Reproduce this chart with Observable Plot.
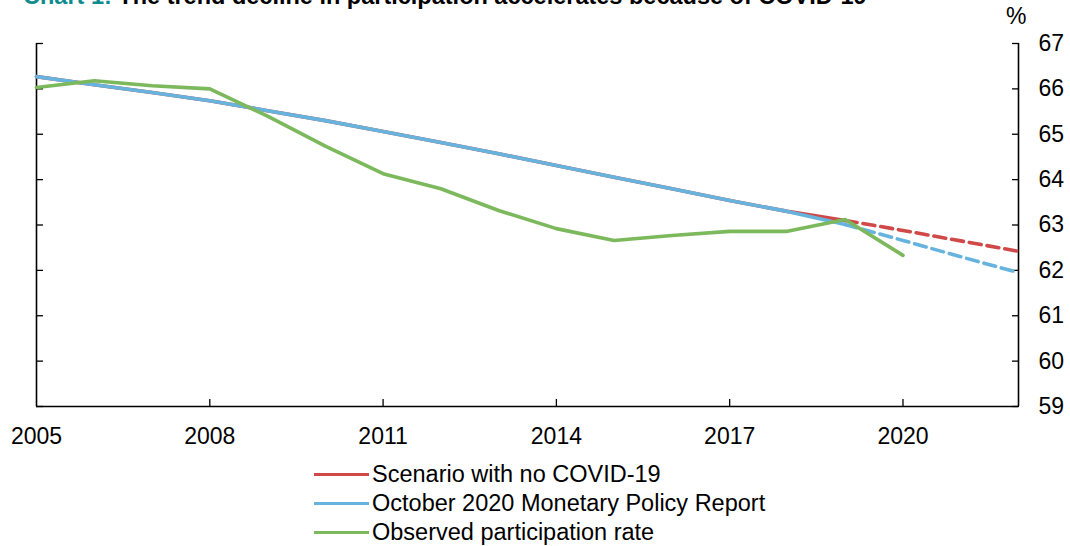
<!DOCTYPE html>
<html>
<head>
<meta charset="utf-8">
<script src="https://cdn.jsdelivr.net/npm/d3@7"></script>
<script src="https://cdn.jsdelivr.net/npm/@observablehq/plot@0.6"></script>
<style>
  html, body { margin: 0; padding: 0; background: #fff; }
  body { width: 1070px; height: 546px; position: relative; overflow: hidden; font-family: Arial, "Liberation Sans", sans-serif; }
  #title { position: absolute; left: 23px; top: -16px; font-size: 23.5px; font-weight: bold; white-space: nowrap; line-height: 24px; color: #000; }
  #title .lead { color: #0f8b8d; }
  #pct { position: absolute; left: 1006px; top: 3px; font-size: 23px; line-height: 26px; }
  #chart { position: absolute; left: 0; top: 0; }
  #legend { position: absolute; left: 314px; top: 460px; font-size: 23.5px; }
  .row { display: flex; align-items: center; height: 29px; }
  .sw { width: 55px; height: 3.5px; margin-right: 3px; }
</style>
</head>
<body>
<div id="title"><span class="lead">Chart 1:</span> The trend decline in participation accelerates because of COVID-19</div>
<div id="pct">%</div>
<div id="chart"></div>
<div id="legend"></div>
<script>
const years = [2005,2006,2007,2008,2009,2010,2011,2012,2013,2014,2015,2016,2017,2018,2019,2020,2021,2022];
const mpr = [66.27,66.09,65.92,65.74,65.52,65.30,65.06,64.82,64.57,64.31,64.05,63.80,63.54,63.30,63.01,62.66,62.30,61.95];
const noCovid = [66.27,66.09,65.92,65.74,65.52,65.30,65.06,64.82,64.57,64.31,64.05,63.80,63.54,63.30,63.10,62.88,62.65,62.42];
const obsYears = [2005,2006,2007,2008,2009,2010,2011,2012,2013,2014,2015,2016,2017,2018,2019,2020];
const observed = [66.03,66.18,66.07,66.00,65.40,64.74,64.13,63.80,63.32,62.92,62.66,62.77,62.86,62.86,63.12,62.33];
const projectionStart = 2019;
const xTicks = [2008,2011,2014,2017,2020];
const xLabels = [2005,2008,2011,2014,2017,2020];
const yTicks = [59,60,61,62,63,64,65,66,67];
const seriesNames = ["Scenario with no COVID-19","October 2020 Monetary Policy Report","Observed participation rate"];
const colors = ["#d04848","#66b3dd","#7cb85c"];

const red = years.map((y,i)=>({x:y, v:noCovid[i]}));
const blue = years.map((y,i)=>({x:y, v:mpr[i]}));
const green = obsYears.map((y,i)=>({x:y, v:observed[i]}));
const solid = d => d.filter(p => p.x <= projectionStart);
const dashed = d => d.filter(p => p.x >= projectionStart);

const lw = 3.6;
const chart = Plot.plot({
  width: 1070,
  height: 450,
  marginLeft: 36,
  marginRight: 52,
  marginTop: 43,
  marginBottom: 44,
  style: {fontFamily: 'Arial, "Liberation Sans", sans-serif', fontSize: "23px", color: "#000", background: "transparent"},
  x: {domain: [2005, 2022]},
  y: {domain: [59, 67]},
  marks: [
    Plot.axisX({ticks: xLabels, tickSize: 0, tickPadding: 21, tickFormat: d => String(d), label: null, fontSize: 23}),
    Plot.axisX({ticks: xTicks, tickSize: -7, text: null, label: null, strokeWidth: 1.3}),
    Plot.axisY({anchor: "right", ticks: yTicks, tickSize: 0, tickPadding: 20, label: null, fontSize: 23, textAnchor: "start"}),
    Plot.axisY({anchor: "right", ticks: yTicks, tickSize: -7, text: null, label: null, strokeWidth: 1.3}),
    Plot.axisY({anchor: "left", ticks: yTicks, tickSize: -7, text: null, label: null, strokeWidth: 1.3}),
    Plot.ruleX([2005, 2022], {stroke: "#000", strokeWidth: 1.6}),
    Plot.ruleY([59], {stroke: "#000", strokeWidth: 1.6}),
    Plot.line(dashed(red), {x: "x", y: "v", stroke: colors[0], strokeWidth: lw, strokeDasharray: "12,6"}),
    Plot.line(dashed(blue), {x: "x", y: "v", stroke: colors[1], strokeWidth: lw, strokeDasharray: "12,6"}),
    Plot.line(solid(red), {x: "x", y: "v", stroke: colors[0], strokeWidth: lw}),
    Plot.line(solid(blue), {x: "x", y: "v", stroke: colors[1], strokeWidth: lw}),
    Plot.line(green, {x: "x", y: "v", stroke: colors[2], strokeWidth: lw})
  ]
});
document.getElementById("chart").appendChild(chart);

const legend = document.getElementById("legend");
seriesNames.forEach((name, i) => {
  const row = document.createElement("div");
  row.className = "row";
  const sw = document.createElement("div");
  sw.className = "sw";
  sw.style.background = colors[i];
  const t = document.createElement("span");
  t.textContent = name;
  row.appendChild(sw);
  row.appendChild(t);
  legend.appendChild(row);
});
</script>
</body>
</html>
